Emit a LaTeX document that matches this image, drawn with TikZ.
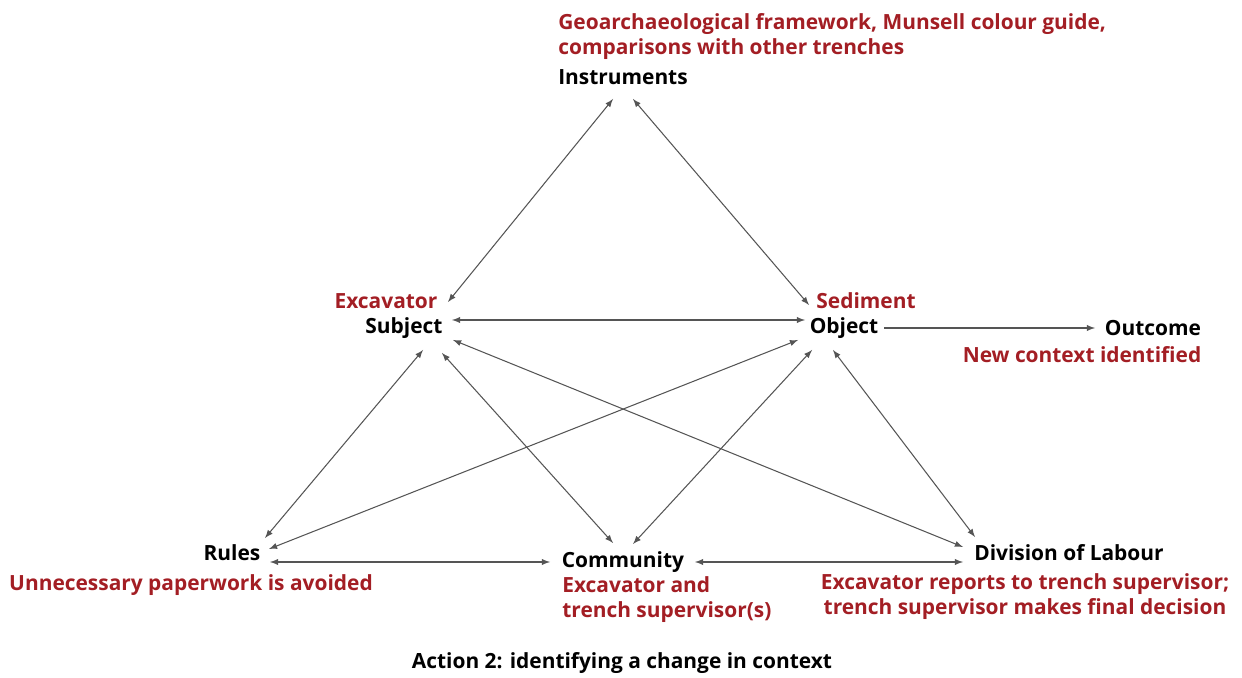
\documentclass[tikz,border=0pt]{standalone}
\usepackage{fontspec}
\setmainfont{Open Sans}
\usepackage{xcolor}
\usetikzlibrary{arrows}
\definecolor{myred}{RGB}{163,30,36}
\definecolor{mygray}{RGB}{85,85,85}

\tikzset{
  lbl/.style={font=\bfseries\fontsize{11.9}{14.2}\selectfont, text=black, inner sep=0pt},
  note/.style={font=\bfseries\fontsize{11.9}{14.2}\selectfont, text=myred, inner sep=0pt},
  link/.style={latex-latex, draw=mygray, line width=0.6pt},
}

\begin{document}
\begin{tikzpicture}[x=0.02cm,y=-0.02cm]
\useasboundingbox (0,0) rectangle (1242,678);

% the six corners of the activity system
\node[lbl] (instr) at (623,77) {Instruments};
\node[lbl] (subj) at (404,328) {Subject};
\node[lbl] (obj) at (844,328) {Object};
\node[lbl] (outc) at (1153,328) {Outcome};
\node[lbl] (rules) at (232,553) {Rules};
\node[lbl] (comm) at (623,562) {Community};
\node[lbl] (divl) at (1069,553) {Division of Labour};

% red notes
\node[note, align=left, anchor=west] (instrnote) at (558,36.5) {Geoarchaeological framework, Munsell colour guide,\\comparisons with other trenches};
\node[note] (subjnote) at (386,301) {Excavator};
\node[note] (objnote) at (866,301) {Sediment};
\node[note] (outcnote) at (1082,355) {New context identified};
\node[note] (rulesnote) at (191,585) {Unnecessary paperwork is avoided};
\node[note, align=left, anchor=west] (commnote) at (562,599.5) {Excavator and\\trench supervisor(s)};
\node[note, align=center] (divnote) at (1025,596.5) {Excavator reports to trench supervisor;\\trench supervisor makes final decision};

\node[lbl] (caption) at (622,663) {Action 2: identifying a change in context};

\draw[link] ([shift={(-10,22)}]instr.center) -- ([shift={(44,-26)}]subj.center);
\draw[link] ([shift={(10,22)}]instr.center) -- ([shift={(-35,-23)}]obj.center);
\draw[link] ([shift={(48,-8)}]subj.center) -- ([shift={(-39,-8)}]obj.center);
\draw[-latex, draw=mygray, line width=0.6pt] ([shift={(40,0)}]obj.center) -- ([shift={(-58,0)}]outc.center);

\draw[link] ([shift={(19,22)}]subj.center) -- ([shift={(33,-15)}]rules.center);
\draw[link] ([shift={(38,25)}]subj.center) -- ([shift={(-10,-19)}]comm.center);
\draw[link] ([shift={(49,12)}]subj.center) -- ([shift={(-106,-6)}]divl.center);

\draw[link] ([shift={(-46,12)}]obj.center) -- ([shift={(37,-4)}]rules.center);
\draw[link] ([shift={(-32,22)}]obj.center) -- ([shift={(10,-18)}]comm.center);
\draw[link] ([shift={(-11,22)}]obj.center) -- ([shift={(-94,-16)}]divl.center);

\draw[link] ([shift={(38,9)}]rules.center) -- ([shift={(-73,0)}]comm.center);
\draw[link] ([shift={(72,0)}]comm.center) -- ([shift={(-106,9)}]divl.center);
\end{tikzpicture}
\end{document}
